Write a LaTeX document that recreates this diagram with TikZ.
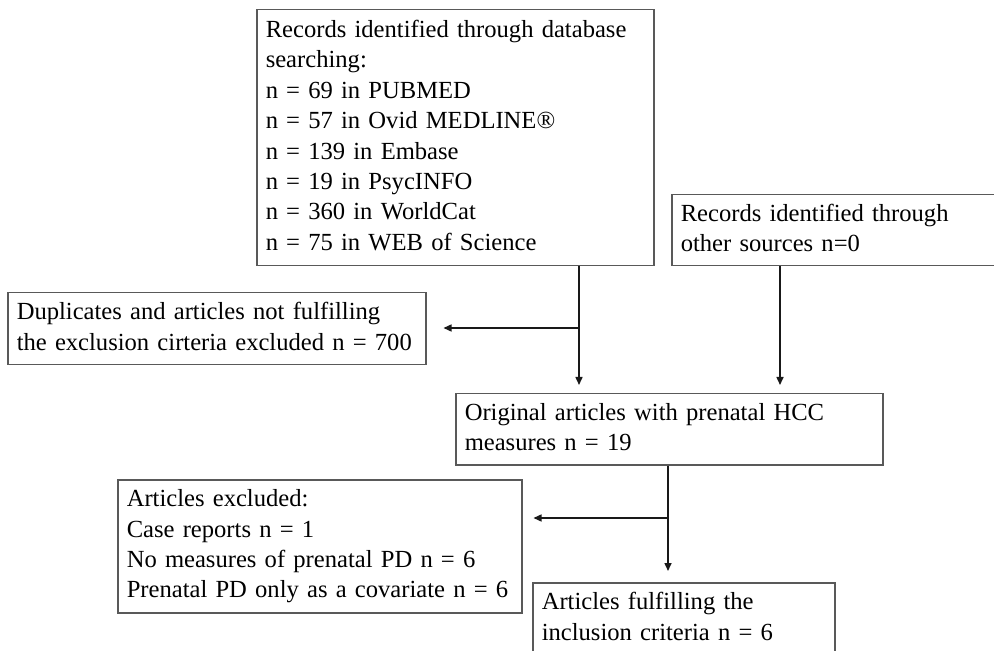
\documentclass[tikz,border=0pt]{standalone}
\usepackage{fontspec}
\setmainfont{Liberation Serif}
\usetikzlibrary{arrows.meta}
\newcommand{\flowtext}[1]{\begin{tabular}{@{}l@{}}#1\end{tabular}}
\tikzset{
  flowbox/.style={draw=black!65, line width=0.75pt, anchor=north west, align=left, inner xsep=4.5pt, inner ysep=2pt, font=\fontsize{12.3}{15.2}\selectfont},
  flowline/.style={black!90, line width=0.75pt},
  flowarrow/.style={flowline, -{Triangle[length=4pt,width=3.5pt]}}
}

\begin{document}
\begin{tikzpicture}[x=0.5pt,y=-0.5pt]
\useasboundingbox (0,0) rectangle (994,651);
\clip (0,0) rectangle (994,651);
\node[flowbox, text width=189.5pt, minimum height=128pt] (db) at (256,9) {\flowtext{Records identified through database\\searching:\\n = 69 in PUBMED\\n = 57 in Ovid MEDLINE®\\n = 139 in Embase\\n = 19 in PsycINFO\\n = 360 in WorldCat\\n = 75 in WEB of Science}};
\node[flowbox, text width=161pt, minimum height=35.5pt] (other) at (671,194) {\flowtext{Records identified through\\other sources n=0}};
\node[flowbox, text width=200pt, minimum height=36pt] (dup) at (7,292) {\flowtext{Duplicates and articles not fulfilling\\the exclusion cirteria excluded n = 700}};
\node[flowbox, text width=204.5pt, minimum height=35.5pt] (orig) at (455,393) {\flowtext{Original articles with prenatal HCC\\measures n = 19}};
\node[flowbox, text width=193pt, minimum height=66.5pt] (excl) at (117,479) {\flowtext{Articles excluded:\\Case reports n = 1\\No measures of prenatal PD n = 6\\Prenatal PD only as a covariate n = 6}};
\node[flowbox, text width=142pt, minimum height=36pt] (incl) at (532,582) {\flowtext{Articles fulfilling the\\inclusion criteria n = 6}};
\coordinate (j1) at (579,328);
\coordinate (j2) at (780,300);
\coordinate (j3) at (668,518);
\draw[flowline] (db.south -| j1) -- (j1);
\draw[flowarrow, shorten >=8.5pt] (j1) -- (j1 -| dup.east);
\draw[flowarrow, shorten >=4pt] (j1) -- (j1 |- orig.north);
\draw[flowarrow, shorten >=4pt] (other.south -| j2) -- (j2 |- orig.north);
\draw[flowline] (orig.south -| j3) -- (j3);
\draw[flowarrow, shorten >=5.5pt] (j3) -- (j3 -| excl.east);
\draw[flowarrow, shorten >=5.5pt] (j3) -- (j3 |- incl.north);
\end{tikzpicture}
\end{document}
